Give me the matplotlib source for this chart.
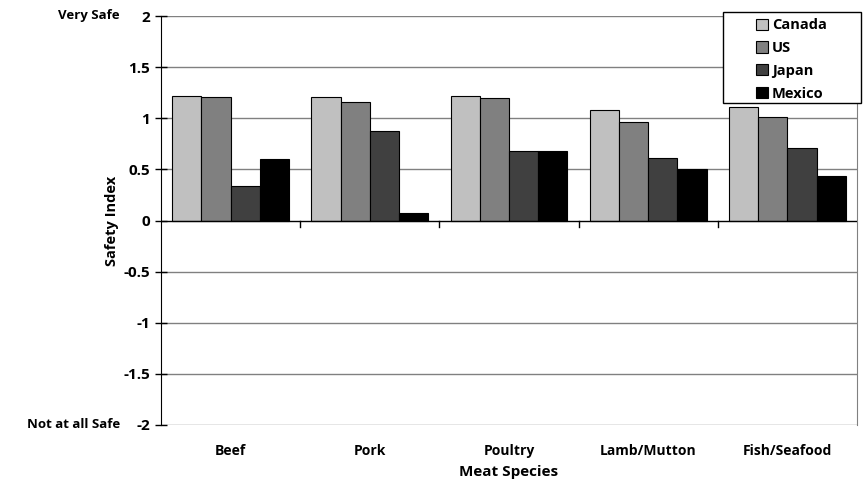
import numpy as np
import matplotlib
matplotlib.use("Agg")
import matplotlib.pyplot as plt
from matplotlib.patches import Rectangle
from matplotlib.transforms import blended_transform_factory

plt.rcParams['font.family'] = ['Open Sans', 'DejaVu Sans']
plt.rcParams['font.weight'] = 'bold'
plt.rcParams['axes.labelweight'] = 'bold'

species = ["Beef", "Pork", "Poultry", "Lamb/Mutton", "Fish/Seafood"]
countries = ["Canada", "US", "Japan", "Mexico"]
canada = [1.22, 1.21, 1.22, 1.08, 1.11]
us = [1.21, 1.16, 1.20, 0.96, 1.01]
japan = [0.34, 0.88, 0.68, 0.61, 0.71]
mexico = [0.60, 0.07, 0.68, 0.50, 0.44]
yticks = [2, 1.5, 1, 0.5, 0, -0.5, -1, -1.5, -2]
ytick_labels = ["2", "1.5", "1", "0.5", "0", "-0.5", "-1", "-1.5", "-2"]

colors = ["#c0c0c0", "#808080", "#404040", "#000000"]
series = [canada, us, japan, mexico]

W, H = 864, 484
fig = plt.figure(figsize=(W / 100, H / 100), dpi=100)
ax = fig.add_axes([161 / W, 1 - 425 / H, (857 - 161) / W, (425 - 16) / H])

x = np.arange(len(species))
w = 0.21
for k, (vals, c, name) in enumerate(zip(series, colors, countries)):
    ax.bar(x + (k - 1.5) * w, vals, w, color=c, edgecolor="black",
           linewidth=0.8, label=name, zorder=3)

ax.set_ylim(-2, 2)
ax.set_xlim(-0.5, len(species) - 0.5)
ax.set_yticks(yticks)
ax.set_yticklabels(ytick_labels, fontsize=11)
ax.tick_params(axis='y', direction='inout', length=8, width=1, pad=4)

for yv in yticks:
    if yv != 0:
        ax.axhline(yv, color="#808080", linewidth=1, zorder=1)
ax.axhline(0, color="black", linewidth=1, zorder=4)

# category boundary ticks at the zero line
trans = blended_transform_factory(ax.transData, ax.transAxes)
for b in np.arange(0.5, len(species) - 0.5, 1):
    ax.plot([b, b], [0.5, 0.485], transform=trans, color="black",
            linewidth=1, clip_on=False, zorder=4)

ax.set_xticks(x)
ax.set_xticklabels(species, fontsize=10)
ax.tick_params(axis='x', length=0, pad=14)

for s in ["top", "bottom"]:
    ax.spines[s].set_visible(False)
ax.spines["right"].set_color("#808080")
ax.spines["left"].set_color("black")

ax.set_xlabel("Meat Species", fontsize=11, labelpad=5)
ax.set_ylabel("Safety Index", fontsize=10.5, labelpad=3)

ytr = blended_transform_factory(fig.transFigure, ax.transData)
ax.text(0.139, 2, "Very Safe", transform=ytr, ha="right", va="center", fontsize=9.5)
ax.text(0.139, -2, "Not at all Safe", transform=ytr, ha="right", va="center", fontsize=9.5)

# legend box (wider than its contents, as in the original)
fig.patches.append(Rectangle((723 / W, 1 - 103 / H), (861 - 723) / W, (103 - 12) / H,
                             transform=fig.transFigure, facecolor="white",
                             edgecolor="black", linewidth=1, zorder=5))
leg = fig.legend(loc="upper left", bbox_to_anchor=(752 / W, 1 - 14 / H),
                 fontsize=10.5, frameon=False,
                 handlelength=0.8, handleheight=0.8, handletextpad=0.25,
                 borderpad=0.3, labelspacing=0.6, borderaxespad=0)
leg.set_zorder(6)
for t in leg.get_texts():
    t.set_fontweight("bold")

fig.savefig("out.png", dpi=100)
